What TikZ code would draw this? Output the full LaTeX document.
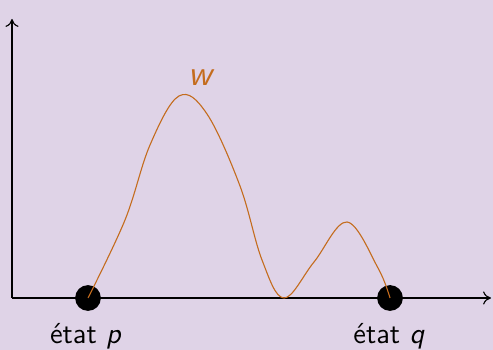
\documentclass[tikz,border=0pt]{standalone}
\usetikzlibrary{arrows.meta}
\definecolor{bgcol}{RGB}{223,211,231}
\definecolor{curvecol}{RGB}{196,108,30}
\begin{document}
\begin{tikzpicture}[x=0.38pt,y=-0.38pt,
  axis/.style={line width=0.42pt,-{To[length=3pt,width=5pt]}},
  dot/.style={circle,fill=black,inner sep=0pt,minimum size=9.8pt},
  lab/.style={font=\sffamily\fontsize{11}{13}\selectfont,anchor=base},
  curvestyle/.style={curvecol,line width=0.42pt}]
\fill[bgcol] (0,0) rectangle (493,350);
\useasboundingbox (0,0) rectangle (493,350);
\coordinate (o) at (12,298);
\coordinate (ytop) at (12,19);
\coordinate (xend) at (491,298);
\draw[axis] (o) -- (ytop);
\draw[axis] (o) -- (xend);
\node[dot] (p) at (88,298) {};
\node[dot] (q) at (390,298) {};
\draw[curvestyle] plot[smooth,tension=0.6] coordinates {
  (88,298) (125,220) (150,145) (179,96)
  (207,114) (240,186) (262,260) (284,298)
  (314,262) (347,222) (378,268) (390,298)};
\node[lab] (lp) at (86,344) {état \textsl{p}};
\node[lab] (lq) at (389,344) {état \textsl{q}};
\node[font=\sffamily\fontsize{13.5}{15}\selectfont,text=curvecol,anchor=base] (w) at (202,86) {\textsl{w}};
\end{tikzpicture}
\end{document}
